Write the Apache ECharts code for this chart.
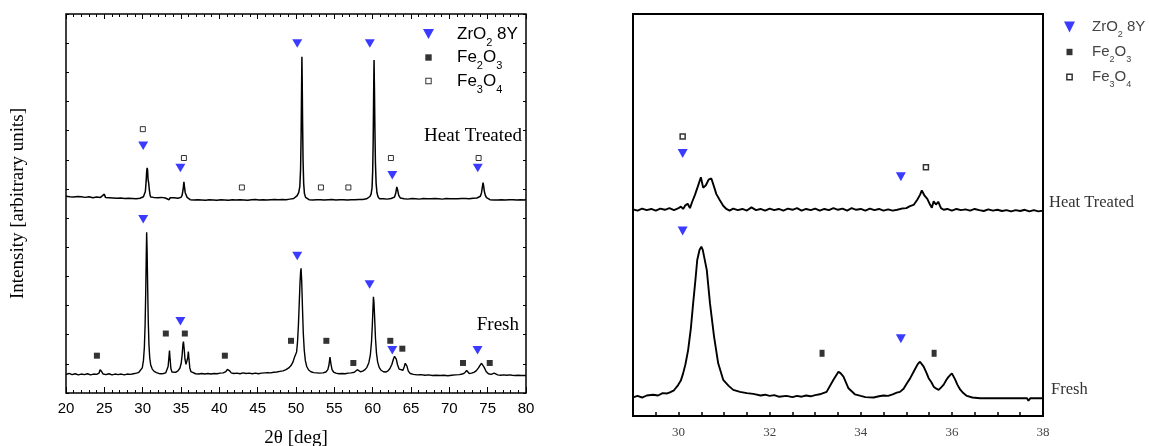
<!DOCTYPE html>
<html>
<head>
<meta charset="utf-8">
<script src="https://cdn.jsdelivr.net/npm/echarts@6/dist/echarts.min.js"></script>
<style>
  html, body { margin: 0; padding: 0; background: #fff; }
  #chart { width: 1149px; height: 446px; }
</style>
</head>
<body>
<div id="chart"></div>
<script>
// XRD patterns: [2θ (deg), intensity above the pattern's own baseline (a.u.)]
const fullHeatTreated = [
  [20.0,0.6],[20.25,1.0],[20.5,0.4],[20.75,0.9],[21.0,0.3],[21.25,0.8],[21.5,0.5],[21.75,1.0],[22.0,0.4],[22.25,0.7],
  [22.5,0.2],[22.75,0.8],[23.0,0.4],[23.25,0.6],[23.5,0.1],[23.75,0.7],[24.0,0.3],[24.25,0.6],[24.5,0.2],[24.75,0.5],
  [25.0,1.3],[25.15,0.2],[25.4,0.6],[25.65,0.1],[25.9,0.5],[26.15,0.0],[26.4,0.4],[26.65,-0.1],[26.9,0.3],[27.15,0.0],
  [27.4,0.4],[27.65,-0.2],[27.9,0.2],[28.15,-0.1],[28.4,0.3],[28.65,-0.2],[28.9,0.1],[29.15,-0.3],[29.4,0.2],[29.65,-0.1],
  [29.9,0.1],[30.1,0.4],[30.25,0.9],[30.35,2.2],[30.45,5.5],[30.52,9.0],[30.58,10.3],[30.64,9.6],[30.7,6.5],[30.78,5.2],
  [30.86,3.0],[30.95,1.2],[31.05,0.3],[31.2,-0.1],[31.45,0.2],[31.7,-0.3],[31.95,0.1],[32.2,-0.2],[32.45,0.2],[32.7,-0.4],
  [32.95,0.0],[33.2,-0.2],[33.45,-0.6],[33.6,0.1],[33.85,-0.3],[34.1,0.1],[34.35,-0.4],[34.6,-0.1],[34.85,-0.6],[35.0,0.2],
  [35.15,1.0],[35.28,3.0],[35.38,5.5],[35.46,3.6],[35.55,1.8],[35.65,1.4],[35.8,0.2],[35.95,-0.4],[36.2,-0.6],[36.45,-0.2],
  [36.7,-0.7],[36.95,-0.3],[37.2,-0.6],[37.45,-0.2],[37.7,-0.7],[37.95,-0.4],[38.2,-0.8],[38.45,-0.3],[38.7,-0.6],[38.95,-0.2],
  [39.2,-0.7],[39.45,-0.4],[39.7,-0.8],[39.95,-0.3],[40.2,-0.6],[40.45,-0.2],[40.7,-0.7],[40.95,-0.4],[41.2,-0.8],[41.45,-0.3],
  [41.7,-0.6],[41.95,-0.3],[42.2,-0.7],[42.45,-0.2],[42.7,-0.6],[42.95,-0.3],[43.2,-0.7],[43.45,-0.4],[43.7,-0.8],[43.95,-0.3],
  [44.2,-0.6],[44.45,-0.2],[44.7,-0.5],[44.95,-0.3],[45.2,-0.7],[45.45,-0.2],[45.7,-0.6],[45.95,-0.4],[46.2,-0.7],[46.45,-0.2],
  [46.7,-0.6],[46.95,-0.3],[47.2,-0.5],[47.45,-0.1],[47.7,-0.6],[47.95,-0.3],[48.2,-0.5],[48.45,-0.2],[48.7,-0.6],[48.95,-0.2],
  [49.2,-0.4],[49.45,0.0],[49.7,-0.2],[49.95,0.3],[50.15,0.8],[50.35,1.8],[50.5,4.0],[50.6,10.0],[50.67,22.0],[50.73,38.0],
  [50.77,48.4],[50.81,40.0],[50.86,26.0],[50.92,13.0],[51.0,5.0],[51.1,1.5],[51.25,0.2],[51.45,-0.4],[51.7,-0.6],[51.95,-0.3],
  [52.2,-0.7],[52.45,-0.4],[52.7,-0.6],[52.95,-0.2],[53.2,-0.6],[53.45,-0.3],[53.7,-0.7],[53.95,-0.4],[54.2,-0.6],[54.45,-0.2],
  [54.7,-0.5],[54.95,-0.3],[55.2,-0.7],[55.45,-0.3],[55.7,-0.6],[55.95,-0.2],[56.2,-0.6],[56.45,-0.3],[56.7,-0.7],[56.95,-0.4],
  [57.2,-0.6],[57.45,-0.2],[57.7,-0.6],[57.95,-0.3],[58.2,-0.5],[58.45,-0.2],[58.7,-0.5],[58.95,-0.1],[59.2,-0.3],[59.45,0.1],
  [59.65,0.5],[59.8,1.4],[59.92,3.5],[60.0,9.0],[60.07,20.0],[60.13,36.0],[60.18,47.3],[60.23,38.0],[60.29,24.0],[60.36,12.0],
  [60.45,5.0],[60.56,1.8],[60.7,0.4],[60.9,-0.3],[61.15,-0.6],[61.4,-0.3],[61.65,-0.7],[61.9,-0.4],[62.15,-0.6],[62.4,-0.2],
  [62.65,-0.3],[62.85,0.3],[63.0,1.5],[63.15,3.8],[63.27,2.6],[63.4,0.9],[63.6,0.0],[63.85,-0.5],[64.1,-0.3],[64.35,-0.7],
  [64.6,-0.4],[64.85,-0.6],[65.1,-0.2],[65.35,-0.6],[65.6,-0.3],[65.85,-0.7],[66.1,-0.4],[66.35,-0.6],[66.6,-0.2],[66.85,-0.6],
  [67.1,-0.3],[67.35,-0.7],[67.6,-0.3],[67.85,-0.6],[68.1,-0.2],[68.35,-0.5],[68.6,-0.3],[68.85,-0.7],[69.1,-0.4],[69.35,-0.6],
  [69.6,-0.2],[69.85,-0.6],[70.1,-0.3],[70.35,-0.7],[70.6,-0.3],[70.85,-0.6],[71.1,-0.3],[71.35,-0.6],[71.6,-0.2],[71.85,-0.5],
  [72.1,-0.2],[72.35,-0.6],[72.6,-0.3],[72.85,-0.5],[73.1,-0.1],[73.35,-0.4],[73.6,0.0],[73.85,-0.2],[74.05,0.6],[74.2,1.8],
  [74.3,3.6],[74.4,5.3],[74.48,4.0],[74.57,2.2],[74.7,0.9],[74.85,0.1],[75.05,-0.4],[75.3,-0.6],[75.55,-0.3],[75.8,-0.7],
  [76.05,-0.4],[76.3,-0.7],[76.55,-0.3],[76.8,-0.6],[77.05,-0.3],[77.3,-0.7],[77.55,-0.4],[77.8,-0.6],[78.05,-0.2],[78.3,-0.6],
  [78.55,-0.4],[78.8,-0.7],[79.05,-0.3],[79.3,-0.6],[79.55,-0.4],[79.8,-0.7],[80.0,-0.5]
];
const fullFresh = [
  [20.0,0.8],[20.4,1.1],[20.8,0.7],[21.2,1.0],[21.6,0.6],[22.0,0.9],[22.4,0.7],[22.8,1.0],[23.2,0.6],[23.6,0.9],
  [24.0,0.8],[24.3,1.2],[24.45,2.4],[24.55,3.0],[24.68,1.6],[24.85,0.9],[25.2,0.7],[25.6,1.0],[26.0,0.6],[26.4,0.9],
  [26.8,0.7],[27.2,0.9],[27.6,0.6],[28.0,0.9],[28.4,0.8],[28.8,1.0],[29.2,1.2],[29.5,1.5],[29.75,2.0],[29.95,3.0],
  [30.1,5.5],[30.22,10.0],[30.32,18.0],[30.4,29.0],[30.46,40.0],[30.52,49.5],[30.58,43.0],[30.65,31.0],[30.73,19.0],[30.82,11.0],
  [30.92,6.5],[31.05,4.0],[31.25,2.6],[31.5,1.8],[31.8,1.4],[32.1,1.1],[32.4,1.0],[32.7,1.1],[33.0,1.3],[33.2,1.9],
  [33.32,3.5],[33.42,6.5],[33.5,9.0],[33.58,6.0],[33.68,2.8],[33.82,1.6],[34.0,1.3],[34.3,1.5],[34.6,2.0],[34.85,2.9],
  [35.02,4.5],[35.15,7.5],[35.25,11.0],[35.32,12.0],[35.4,10.0],[35.52,6.0],[35.65,4.2],[35.78,4.6],[35.88,6.5],[35.96,8.6],
  [36.04,6.0],[36.15,3.0],[36.3,1.7],[36.55,1.2],[36.9,1.0],[37.3,0.9],[37.7,1.1],[38.1,0.9],[38.5,1.1],[38.9,0.9],
  [39.3,1.1],[39.7,1.0],[40.1,1.2],[40.5,1.3],[40.85,1.7],[41.05,2.5],[41.2,3.0],[41.35,2.0],[41.55,1.3],[41.9,1.1],
  [42.3,1.2],[42.7,1.0],[43.1,1.3],[43.5,1.1],[43.9,1.2],[44.3,1.0],[44.7,1.2],[45.1,1.0],[45.5,1.2],[45.9,1.3],
  [46.3,1.4],[46.7,1.3],[47.1,1.5],[47.5,1.6],[47.9,1.8],[48.3,2.0],[48.7,2.4],[49.05,3.0],[49.35,3.8],[49.6,5.0],
  [49.78,6.5],[49.88,7.0],[49.97,6.8],[50.08,8.5],[50.2,12.0],[50.32,18.0],[50.42,25.0],[50.52,32.0],[50.6,36.0],[50.66,37.2],
  [50.74,33.0],[50.84,24.0],[50.95,15.0],[51.08,9.0],[51.22,5.5],[51.4,3.5],[51.65,2.3],[51.95,1.7],[52.3,1.4],[52.7,1.3],
  [53.1,1.2],[53.5,1.3],[53.9,1.6],[54.15,2.4],[54.3,4.0],[54.43,6.7],[54.55,4.5],[54.7,2.4],[54.9,1.6],[55.2,1.2],
  [55.6,1.0],[56.0,1.1],[56.4,1.0],[56.8,1.2],[57.2,1.3],[57.6,1.5],[57.85,2.0],[58.0,2.4],[58.15,1.8],[58.4,1.7],
  [58.7,1.9],[59.0,2.4],[59.25,3.2],[59.5,4.8],[59.7,7.5],[59.85,12.0],[59.96,18.0],[60.04,23.5],[60.1,27.4],[60.17,25.5],
  [60.26,20.0],[60.37,13.0],[60.5,8.0],[60.65,5.0],[60.85,3.2],[61.1,2.2],[61.4,1.7],[61.7,1.6],[62.0,2.0],[62.25,2.8],
  [62.5,4.2],[62.7,6.0],[62.85,7.0],[62.95,7.1],[63.08,6.0],[63.25,4.0],[63.45,2.6],[63.7,2.0],[63.95,2.2],[64.12,3.4],
  [64.25,4.6],[64.35,4.9],[64.47,3.6],[64.65,1.9],[64.9,1.1],[65.3,0.8],[65.8,0.6],[66.3,0.7],[66.8,0.5],[67.3,0.6],
  [67.8,0.4],[68.3,0.5],[68.8,0.4],[69.3,0.5],[69.8,0.3],[70.3,0.5],[70.8,0.6],[71.3,0.7],[71.7,0.9],[72.0,1.3],
  [72.15,1.9],[72.26,2.1],[72.4,1.5],[72.6,1.1],[72.9,1.2],[73.2,1.5],[73.5,2.0],[73.8,3.0],[74.0,3.9],[74.2,4.6],
  [74.35,4.3],[74.55,3.2],[74.8,1.8],[75.1,1.0],[75.45,0.8],[75.7,0.9],[75.85,1.2],[76.0,0.8],[76.3,0.6],[76.7,0.5],
  [77.1,0.6],[77.5,0.5],[77.9,0.6],[78.05,0.9],[78.2,0.5],[78.6,0.4],[79.0,0.5],[79.4,0.4],[80.0,0.4]
];
const zoomHeatTreated = [
  [29.0,0.0],[29.1,-0.3],[29.2,0.2],[29.3,-0.2],[29.4,0.1],[29.5,-0.3],[29.6,0.2],[29.7,-0.1],[29.8,0.3],[29.9,-0.2],
  [30.0,0.3],[30.05,0.7],[30.1,0.1],[30.15,1.0],[30.2,1.4],[30.25,0.3],[30.3,1.9],[30.36,3.6],[30.42,5.6],[30.49,8.0],
  [30.54,5.4],[30.6,6.0],[30.66,7.4],[30.72,7.7],[30.78,5.6],[30.83,3.8],[30.9,2.4],[30.98,0.9],[31.05,0.1],[31.12,-0.3],
  [31.2,0.2],[31.3,-0.2],[31.4,0.1],[31.5,-0.3],[31.6,0.5],[31.7,-0.2],[31.8,0.1],[31.9,-0.3],[32.0,0.2],[32.1,-0.2],
  [32.2,0.1],[32.3,-0.3],[32.4,0.2],[32.5,-0.1],[32.6,0.3],[32.7,-0.3],[32.8,0.1],[32.9,-0.2],[33.0,0.2],[33.1,-0.3],
  [33.2,0.1],[33.3,-0.2],[33.4,0.3],[33.5,-0.1],[33.6,0.2],[33.7,-0.3],[33.8,0.3],[33.9,-0.1],[34.0,0.1],[34.1,-0.3],
  [34.2,0.2],[34.3,-0.2],[34.4,0.1],[34.5,-0.3],[34.6,0.0],[34.7,-0.3],[34.8,-0.1],[34.9,0.2],[35.0,0.3],[35.08,0.8],
  [35.16,1.1],[35.24,2.4],[35.3,3.6],[35.34,4.7],[35.4,3.4],[35.46,2.6],[35.52,1.2],[35.56,0.4],[35.6,2.0],[35.65,1.2],
  [35.7,1.9],[35.76,0.3],[35.82,-0.1],[35.9,0.1],[36.0,-0.3],[36.1,0.1],[36.2,-0.2],[36.3,0.0],[36.4,-0.3],[36.5,0.1],
  [36.6,-0.2],[36.7,-0.4],[36.8,0.0],[36.9,-0.3],[37.0,-0.1],[37.1,-0.4],[37.2,-0.2],[37.3,-0.5],[37.4,-0.2],[37.5,-0.4],
  [37.6,-0.1],[37.7,-0.5],[37.8,-0.2],[37.9,-0.5],[38.0,-0.3]
];
const zoomFresh = [
  [29.02,-0.1],[29.1,0.2],[29.2,-0.2],[29.3,0.3],[29.44,0.5],[29.55,0.3],[29.65,0.9],[29.75,0.8],[29.81,1.1],[29.9,1.6],
  [29.99,2.9],[30.05,4.0],[30.1,5.8],[30.15,8.0],[30.21,11.6],[30.27,17.0],[30.32,23.2],[30.37,29.0],[30.41,34.0],[30.46,36.5],
  [30.5,37.3],[30.53,36.6],[30.56,37.0],[30.62,31.5],[30.69,23.2],[30.78,14.9],[30.87,8.3],[30.98,4.2],[31.1,2.7],[31.2,1.7],
  [31.35,1.2],[31.5,0.9],[31.64,0.7],[31.8,0.3],[31.9,0.5],[32.0,0.2],[32.1,0.4],[32.2,0.0],[32.37,0.2],[32.5,-0.1],
  [32.6,0.2],[32.7,0.0],[32.8,0.3],[32.9,0.1],[33.0,0.4],[33.1,0.6],[33.25,1.2],[33.4,4.2],[33.51,6.2],[33.56,5.8],
  [33.62,5.0],[33.73,2.1],[33.87,0.6],[34.0,0.2],[34.1,-0.1],[34.28,-0.2],[34.4,0.1],[34.5,0.3],[34.6,0.2],[34.7,0.6],
  [34.79,1.0],[34.86,1.2],[34.94,2.0],[35.01,3.3],[35.08,4.5],[35.16,6.2],[35.25,8.1],[35.3,8.7],[35.34,8.4],[35.38,7.5],
  [35.44,6.0],[35.49,4.6],[35.55,3.6],[35.6,2.5],[35.66,2.0],[35.71,1.7],[35.77,2.4],[35.82,3.0],[35.88,4.2],[35.93,5.0],
  [36.0,5.8],[36.04,5.4],[36.07,4.3],[36.12,3.0],[36.18,1.8],[36.25,0.9],[36.33,0.2],[36.45,-0.2],[36.62,-0.4],[36.9,-0.4],
  [37.2,-0.4],[37.5,-0.4],[37.65,-0.4],[37.68,-1.0],[37.72,-0.4],[38.0,-0.4]
];

// vertical stacking offsets of the two patterns in each panel
const fullOffsets = { heat: 66.9, fresh: 5.6 };
const zoomOffsets = { heat: 51.4, fresh: 4.8 };

// reflection markers: [2θ, stacked intensity]
const fullZrO2 = [[30.07,84.8],[34.92,77.2],[50.16,119.9],[59.63,119.9],[62.56,74.7],[73.71,77.2],
                  [30.07,59.6],[34.92,24.6],[50.16,47.0],[59.6,37.2],[62.56,14.7],[73.68,14.7]];
const fullFe2O3 = [[24.03,12.8],[33.02,20.4],[35.5,20.4],[40.72,12.8],[49.35,17.9],[53.96,17.9],
                   [57.48,10.3],[62.3,17.9],[63.87,15.2],[71.78,10.3],[75.27,10.3]];
const fullFe3O4 = [[30.02,90.5],[35.38,80.6],[42.94,70.5],[53.25,70.5],[56.83,70.5],[62.38,80.6],[73.82,80.6]];
const zoomZrO2 = [[30.09,65.3],[34.88,59.5],[30.09,46.0],[34.88,19.2]];
const zoomFe2O3 = [[33.15,15.6],[35.61,15.6]];
const zoomFe3O4 = [[30.09,69.5],[35.43,61.9]];

// axis tick labels
const fullXTicks = [20, 25, 30, 35, 40, 45, 50, 55, 60, 65, 70, 75, 80];
const zoomXTicks = [30, 32, 34, 36, 38];

const BLUE = '#0a0aff';
const SERIF = '"Liberation Serif", "Times New Roman", serif';
const SANS = '"Liberation Sans", Arial, sans-serif';

function stacked(points, offset) {
  return points.map(p => [p[0], Math.round((p[1] + offset) * 100) / 100]);
}

const legendNames = {
  'ZrO2 8Y': 'ZrO{s|2} 8Y',
  'Fe2O3': 'Fe{s|2}O{s|3}',
  'Fe3O4': 'Fe{s|3}O{s|4}'
};

const chart = echarts.init(document.getElementById('chart'), null, { renderer: 'canvas' });

const patternLine = (name, data, axis, width) => ({
  name, type: 'line', data, xAxisIndex: axis.x, yAxisIndex: axis.y,
  showSymbol: false, symbol: 'none', smooth: false, silent: true,
  lineStyle: { color: '#000', width }, z: 2
});

const markerSeries = (name, data, axis, symbol, size, style) => ({
  name, type: 'scatter', data, xAxisIndex: axis.x, yAxisIndex: axis.y,
  symbol, symbolSize: size, itemStyle: style, z: 5, silent: true
});

const LEFT = { x: 0, y: 0 };
const RIGHT = { x: 2, y: 2 };

chart.setOption({
  animation: false,
  backgroundColor: '#fff',
  grid: [
    { left: 66, top: 14, width: 460, height: 379, show: true, borderColor: '#000', borderWidth: 1.5,
      backgroundColor: 'transparent', containLabel: false, outerBoundsMode: 'none' },
    { left: 633, top: 14, width: 410, height: 402, show: true, borderColor: '#000', borderWidth: 2,
      backgroundColor: 'transparent', containLabel: false, outerBoundsMode: 'none' }
  ],
  xAxis: [
    {
      gridIndex: 0, type: 'value', position: 'bottom', min: 20, max: 80, interval: 5,
      axisLine: { show: false, onZero: false },
      axisTick: { show: true, inside: true, length: 6, lineStyle: { color: '#000', width: 1 } },
      minorTick: { show: true, splitNumber: 5, length: 3, lineStyle: { color: '#000', width: 1 } },
      splitLine: { show: false }, minorSplitLine: { show: false },
      axisLabel: { margin: 8, color: '#000', fontFamily: SANS, fontSize: 15,
        formatter: v => (fullXTicks.includes(v) ? String(v) : '') },
      name: '2θ [deg]', nameLocation: 'middle', nameGap: 36,
      nameTextStyle: { fontFamily: SERIF, fontSize: 19, color: '#000' }
    },
    {
      gridIndex: 0, type: 'value', position: 'top', min: 20, max: 80, interval: 5,
      axisLine: { show: false, onZero: false },
      axisTick: { show: true, inside: true, length: 5, lineStyle: { color: '#000', width: 1 } },
      minorTick: { show: true, splitNumber: 5, length: 3, lineStyle: { color: '#000', width: 1 } },
      splitLine: { show: false }, minorSplitLine: { show: false },
      axisLabel: { show: false }
    },
    {
      gridIndex: 1, type: 'value', position: 'bottom', min: 29, max: 38, interval: 0.5,
      axisLine: { show: false, onZero: false },
      axisTick: { show: true, inside: true, length: 4, lineStyle: { color: '#000', width: 1.5 } },
      splitLine: { show: false },
      axisLabel: { margin: 10, color: '#444', fontFamily: SERIF, fontSize: 13,
        formatter: v => (zoomXTicks.includes(v) ? String(v) : '') }
    }
  ],
  yAxis: [
    {
      gridIndex: 0, type: 'value', position: 'left', min: 0, max: 130, interval: 10,
      axisLine: { show: false, onZero: false },
      axisTick: { show: true, inside: true, length: 3, lineStyle: { color: '#000', width: 1 } },
      splitLine: { show: false }, axisLabel: { show: false },
      name: 'Intensity [arbitrary units]', nameLocation: 'middle', nameGap: 38,
      nameTextStyle: { fontFamily: SERIF, fontSize: 19, color: '#000' }
    },
    {
      gridIndex: 0, type: 'value', position: 'right', min: 0, max: 130, interval: 10,
      axisLine: { show: false, onZero: false },
      axisTick: { show: true, inside: true, length: 3, lineStyle: { color: '#000', width: 1 } },
      splitLine: { show: false }, axisLabel: { show: false }
    },
    {
      gridIndex: 1, type: 'value', min: 0, max: 100,
      axisLine: { show: false }, axisTick: { show: false },
      splitLine: { show: false }, axisLabel: { show: false }
    }
  ],
  legend: [
    {
      left: 423, top: 20, orient: 'vertical', padding: 0, itemGap: -4.5,
      itemWidth: 29, itemHeight: 10, selectedMode: false,
      formatter: n => legendNames[n],
      textStyle: { fontFamily: SANS, fontSize: 17, lineHeight: 28, color: '#000',
        rich: { s: { fontFamily: SANS, fontSize: 11, color: '#000', verticalAlign: 'bottom' } } },
      data: [
        { name: 'ZrO2 8Y', icon: 'path://M0,0M29,10M0,0L11,0L5.5,10Z', itemStyle: { color: BLUE, borderWidth: 0 } },
        { name: 'Fe2O3', icon: 'path://M0,0M29,10M2.3,1.8L8.7,1.8L8.7,8.2L2.3,8.2Z', itemStyle: { color: '#000', borderWidth: 0 } },
        { name: 'Fe3O4', icon: 'path://M0,0M29,10M2.3,1.8L8.7,1.8L8.7,8.2L2.3,8.2ZM3.3,2.8L3.3,7.2L7.7,7.2L7.7,2.8Z',
          itemStyle: { color: '#000', borderWidth: 0 } }
      ]
    },
    {
      left: 1064, top: 15, orient: 'vertical', padding: 0, itemGap: 1,
      itemWidth: 23, itemHeight: 11, selectedMode: false,
      formatter: n => legendNames[n],
      textStyle: { fontFamily: SANS, fontSize: 15, lineHeight: 24, color: '#444',
        rich: { s: { fontFamily: SANS, fontSize: 9, color: '#444', verticalAlign: 'bottom' } } },
      data: [
        { name: 'ZrO2 8Y', icon: 'path://M0,0M23,11M0,0L11,0L5.5,11Z', itemStyle: { color: BLUE, borderWidth: 0 } },
        { name: 'Fe2O3', icon: 'path://M0,0M23,11M2.5,2.3L8.5,2.3L8.5,8.7L2.5,8.7Z', itemStyle: { color: '#000', borderWidth: 0 } },
        { name: 'Fe3O4', icon: 'path://M0,0M23,11M2.1,2.1L8.9,2.1L8.9,8.9L2.1,8.9ZM3.6,3.6L3.6,7.4L7.4,7.4L7.4,3.6Z',
          itemStyle: { color: '#000', borderWidth: 0 } }
      ]
    }
  ],
  graphic: [
    { type: 'text', x: 522, y: 136, silent: true,
      style: { text: 'Heat Treated', font: '19px ' + SERIF, fill: '#000',
        align: 'right', textAlign: 'right', verticalAlign: 'middle', textVerticalAlign: 'middle' } },
    { type: 'text', x: 519, y: 325, silent: true,
      style: { text: 'Fresh', font: '19px ' + SERIF, fill: '#000',
        align: 'right', textAlign: 'right', verticalAlign: 'middle', textVerticalAlign: 'middle' } },
    { type: 'text', x: 1049, y: 203, silent: true,
      style: { text: 'Heat Treated', font: '16.5px ' + SERIF, fill: '#333',
        align: 'left', textAlign: 'left', verticalAlign: 'middle', textVerticalAlign: 'middle' } },
    { type: 'text', x: 1051, y: 390, silent: true,
      style: { text: 'Fresh', font: '16.5px ' + SERIF, fill: '#333',
        align: 'left', textAlign: 'left', verticalAlign: 'middle', textVerticalAlign: 'middle' } }
  ],
  series: [
    patternLine('Heat Treated', stacked(fullHeatTreated, fullOffsets.heat), LEFT, 1.5),
    patternLine('Fresh', stacked(fullFresh, fullOffsets.fresh), LEFT, 1.4),
    markerSeries('ZrO2 8Y', fullZrO2, LEFT, 'path://M0,0L10,0L5,8.5Z', [10, 8.5], { color: BLUE }),
    markerSeries('Fe2O3', fullFe2O3, LEFT, 'rect', 6, { color: '#000' }),
    markerSeries('Fe3O4', fullFe3O4, LEFT, 'rect', 5, { color: '#fff', borderColor: '#000', borderWidth: 1 }),

    patternLine('Heat Treated (30–38°)', stacked(zoomHeatTreated, zoomOffsets.heat), RIGHT, 1.9),
    patternLine('Fresh (30–38°)', stacked(zoomFresh, zoomOffsets.fresh), RIGHT, 1.9),
    markerSeries('ZrO2 8Y', zoomZrO2, RIGHT, 'path://M0,0L10,0L5,9Z', [10, 9], { color: BLUE }),
    markerSeries('Fe2O3', zoomFe2O3, RIGHT, 'rect', [5, 7], { color: '#000' }),
    markerSeries('Fe3O4', zoomFe3O4, RIGHT, 'rect', 5, { color: '#fff', borderColor: '#000', borderWidth: 1.5 })
  ]
});
</script>
</body>
</html>
